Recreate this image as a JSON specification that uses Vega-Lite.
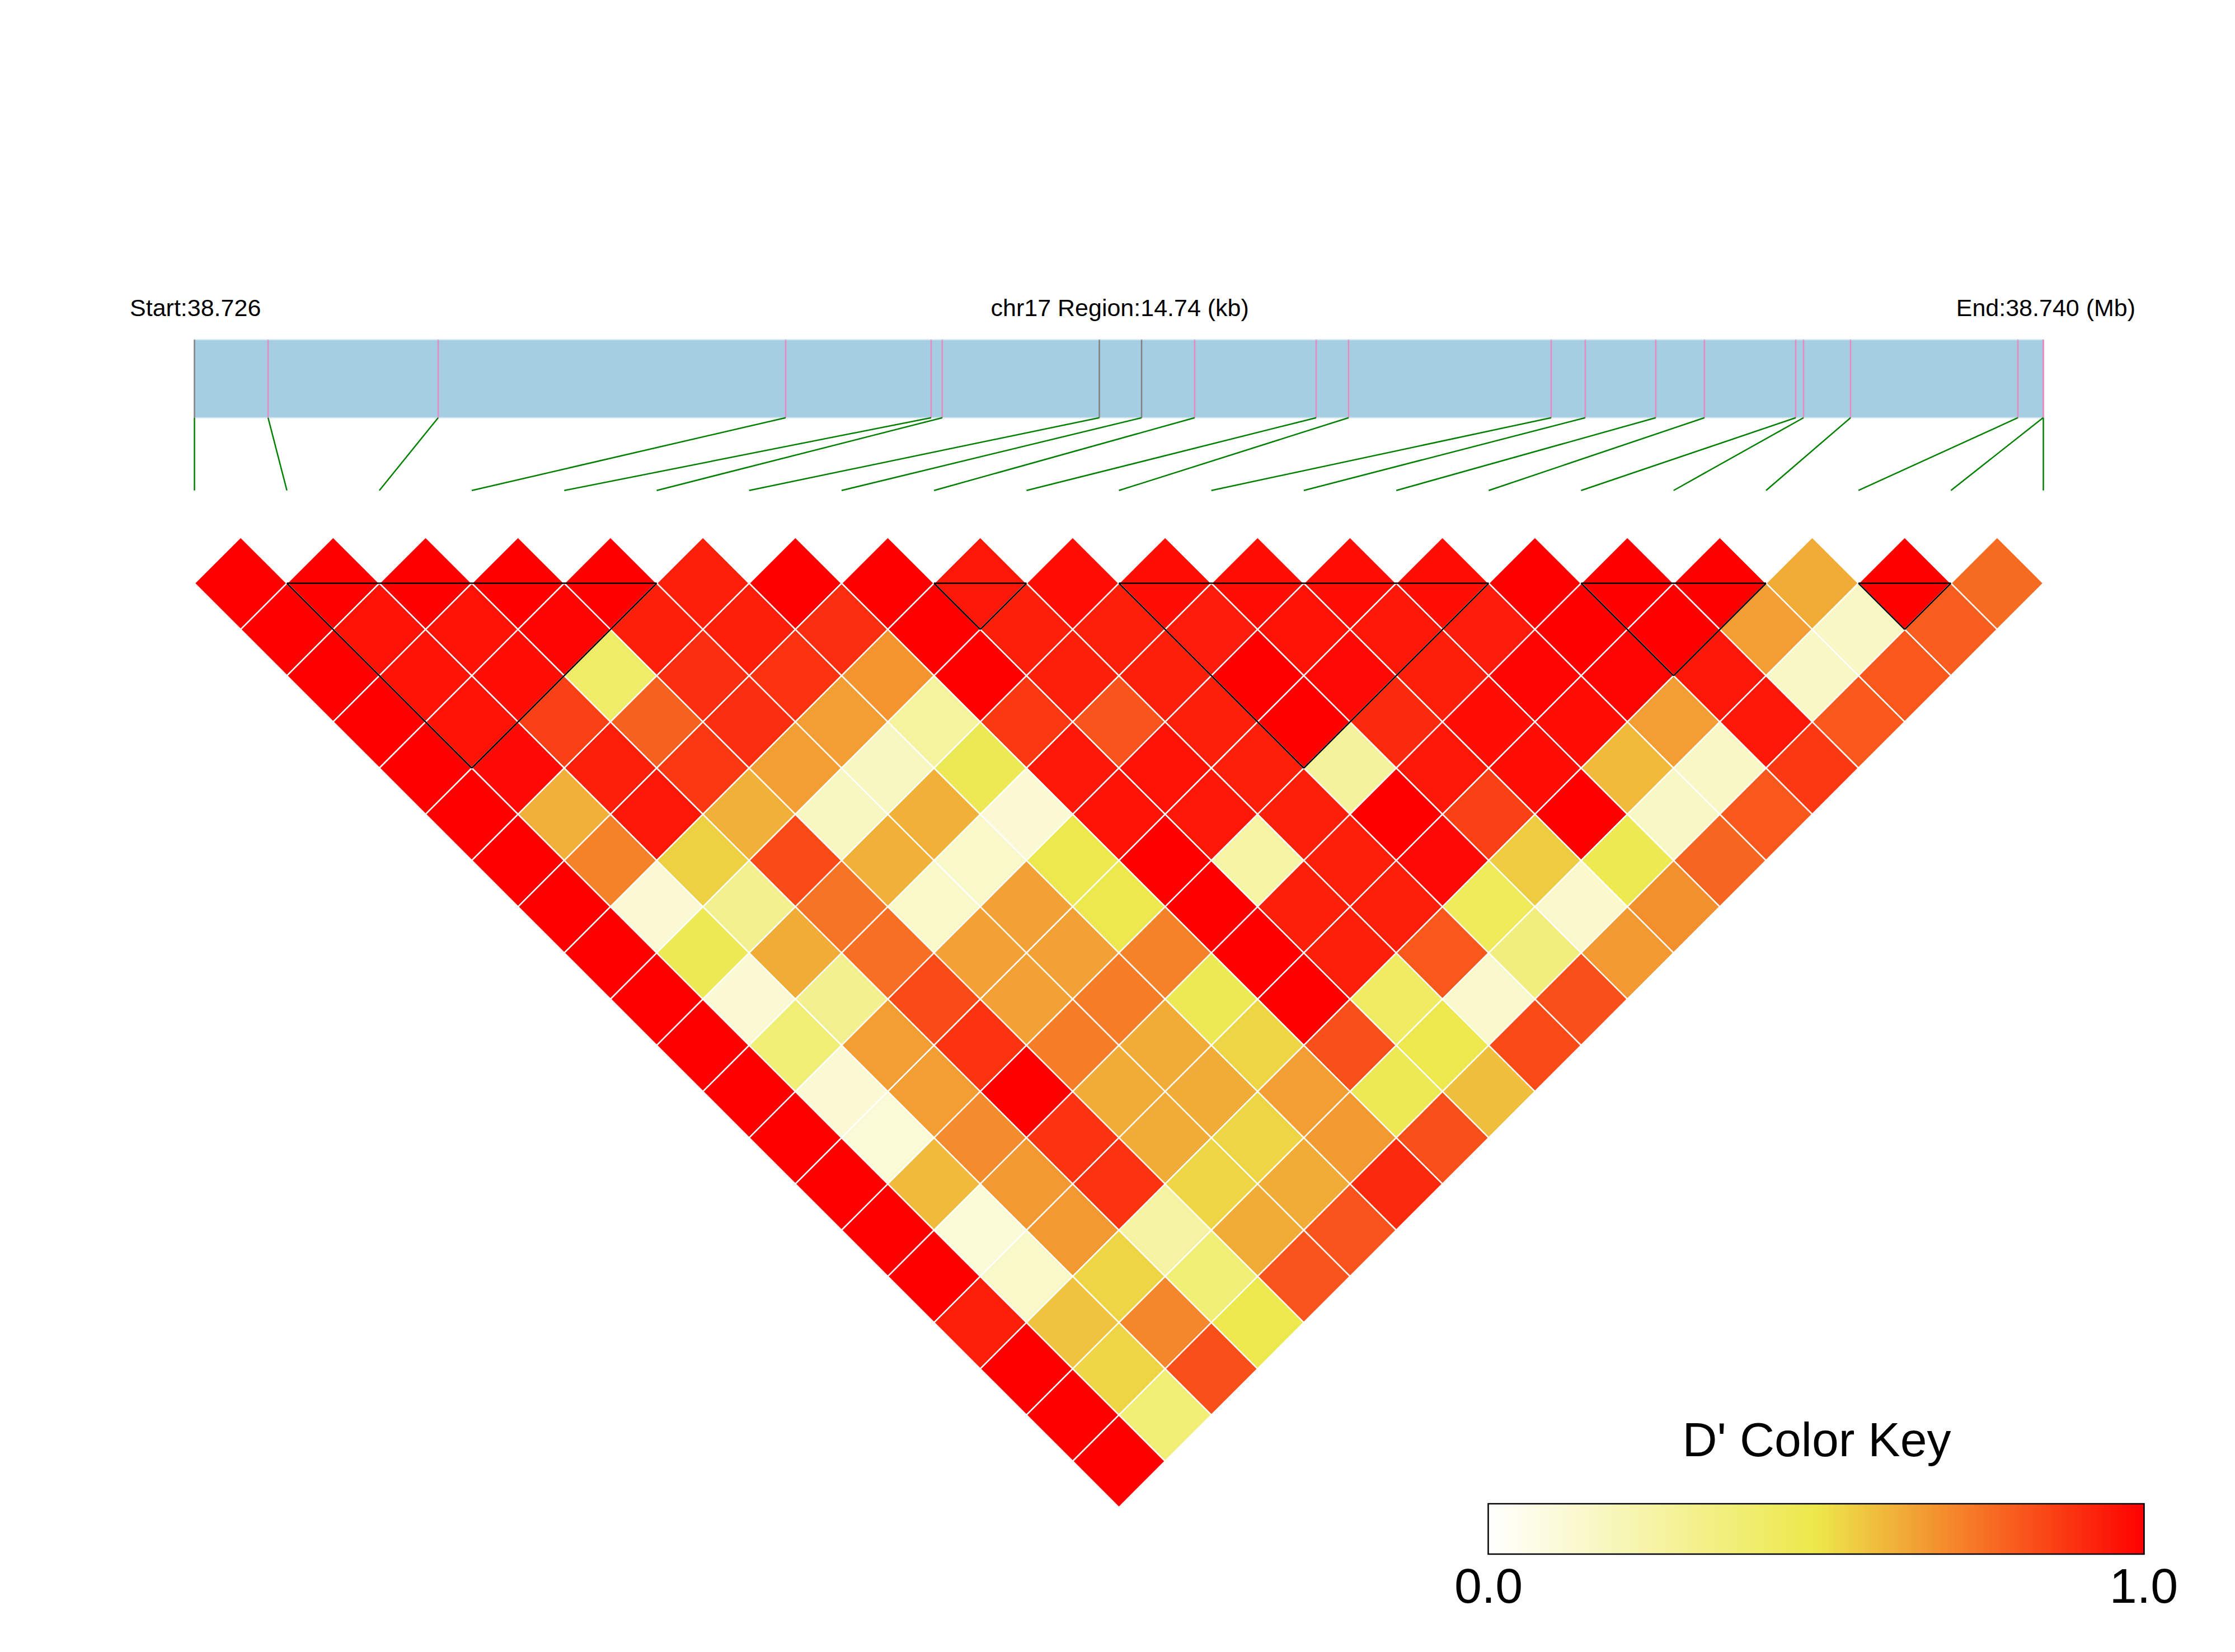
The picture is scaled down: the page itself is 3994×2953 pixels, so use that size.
{
  "$schema": "https://vega.github.io/schema/vega-lite/v6.json",
  "width": 3994,
  "height": 2953,
  "autosize": "none",
  "padding": 0,
  "background": "white",
  "config": {"view": {"stroke": null}},
  "datasets": {
    "snps": [
      {"k":0,"pos":38725600,"group":"grey"},
      {"k":1,"pos":38726187,"group":"pink"},
      {"k":2,"pos":38727543,"group":"pink"},
      {"k":3,"pos":38730313,"group":"pink"},
      {"k":4,"pos":38731473,"group":"pink"},
      {"k":5,"pos":38731562,"group":"pink"},
      {"k":6,"pos":38732814,"group":"grey"},
      {"k":7,"pos":38733151,"group":"grey"},
      {"k":8,"pos":38733574,"group":"pink"},
      {"k":9,"pos":38734543,"group":"pink"},
      {"k":10,"pos":38734801,"group":"pink"},
      {"k":11,"pos":38736416,"group":"pink"},
      {"k":12,"pos":38736688,"group":"pink"},
      {"k":13,"pos":38737250,"group":"pink"},
      {"k":14,"pos":38737638,"group":"pink"},
      {"k":15,"pos":38738366,"group":"pink"},
      {"k":16,"pos":38738428,"group":"pink"},
      {"k":17,"pos":38738803,"group":"pink"},
      {"k":18,"pos":38740137,"group":"pink"},
      {"k":19,"pos":38740338,"group":"pink"},
      {"k":20,"pos":38740340,"group":"pink"}
    ],
    "blocks": [
      {"a":1,"b":5},{"a":8,"b":9},{"a":10,"b":14},{"a":15,"b":17},{"a":18,"b":19}
    ],
    "ld": [
      {"i":0,"j":1,"d":1},{"i":1,"j":2,"d":1},{"i":2,"j":3,"d":1},{"i":3,"j":4,"d":1},{"i":4,"j":5,"d":1},{"i":5,"j":6,"d":0.93},{"i":6,"j":7,"d":1},{"i":7,"j":8,"d":1},{"i":8,"j":9,"d":0.95},{"i":9,"j":10,"d":0.97},{"i":10,"j":11,"d":0.97},{"i":11,"j":12,"d":0.97},{"i":12,"j":13,"d":0.97},{"i":13,"j":14,"d":0.97},{"i":14,"j":15,"d":1},{"i":15,"j":16,"d":1},{"i":16,"j":17,"d":1},{"i":17,"j":18,"d":0.63},{"i":18,"j":19,"d":1},{"i":19,"j":20,"d":0.77},
      {"i":0,"j":2,"d":1},{"i":1,"j":3,"d":0.96},{"i":2,"j":4,"d":0.96},{"i":3,"j":5,"d":0.99},{"i":4,"j":6,"d":0.93},{"i":5,"j":7,"d":0.93},{"i":6,"j":8,"d":0.9},{"i":7,"j":9,"d":1},{"i":8,"j":10,"d":0.93},{"i":9,"j":11,"d":0.93},{"i":10,"j":12,"d":0.94},{"i":11,"j":13,"d":0.96},{"i":12,"j":14,"d":0.95},{"i":13,"j":15,"d":0.94},{"i":14,"j":16,"d":1},{"i":15,"j":17,"d":1},{"i":16,"j":18,"d":0.66},{"i":17,"j":19,"d":0.16},{"i":18,"j":20,"d":0.8},
      {"i":0,"j":3,"d":1},{"i":1,"j":4,"d":0.96},{"i":2,"j":5,"d":0.97},{"i":3,"j":6,"d":0.42},{"i":4,"j":7,"d":0.9},{"i":5,"j":8,"d":0.89},{"i":6,"j":9,"d":0.68},{"i":7,"j":10,"d":1},{"i":8,"j":11,"d":0.93},{"i":9,"j":12,"d":0.93},{"i":10,"j":13,"d":1},{"i":11,"j":14,"d":0.98},{"i":12,"j":15,"d":0.93},{"i":13,"j":16,"d":0.99},{"i":14,"j":17,"d":0.99},{"i":15,"j":18,"d":0.95},{"i":16,"j":19,"d":0.16},{"i":17,"j":20,"d":0.81},
      {"i":0,"j":4,"d":1},{"i":1,"j":5,"d":0.96},{"i":2,"j":6,"d":0.86},{"i":3,"j":7,"d":0.79},{"i":4,"j":8,"d":0.9},{"i":5,"j":9,"d":0.66},{"i":6,"j":10,"d":0.27},{"i":7,"j":11,"d":0.88},{"i":8,"j":12,"d":0.82},{"i":9,"j":13,"d":0.93},{"i":10,"j":14,"d":1},{"i":11,"j":15,"d":0.91},{"i":12,"j":16,"d":0.97},{"i":13,"j":17,"d":0.97},{"i":14,"j":18,"d":0.66},{"i":15,"j":19,"d":0.95},{"i":16,"j":20,"d":0.81},
      {"i":0,"j":5,"d":1},{"i":1,"j":6,"d":0.98},{"i":2,"j":7,"d":0.93},{"i":3,"j":8,"d":0.88},{"i":4,"j":9,"d":0.66},{"i":5,"j":10,"d":0.17},{"i":6,"j":11,"d":0.47},{"i":7,"j":12,"d":0.95},{"i":8,"j":13,"d":0.96},{"i":9,"j":14,"d":0.93},{"i":10,"j":15,"d":0.28},{"i":11,"j":16,"d":0.95},{"i":12,"j":17,"d":0.97},{"i":13,"j":18,"d":0.6},{"i":14,"j":19,"d":0.16},{"i":15,"j":20,"d":0.88},
      {"i":0,"j":6,"d":1},{"i":1,"j":7,"d":0.62},{"i":2,"j":8,"d":0.95},{"i":3,"j":9,"d":0.62},{"i":4,"j":10,"d":0.17},{"i":5,"j":11,"d":0.62},{"i":6,"j":12,"d":0.12},{"i":7,"j":13,"d":0.96},{"i":8,"j":14,"d":0.95},{"i":9,"j":15,"d":0.93},{"i":10,"j":16,"d":1},{"i":11,"j":17,"d":0.86},{"i":12,"j":18,"d":1},{"i":13,"j":19,"d":0.16},{"i":14,"j":20,"d":0.81},
      {"i":0,"j":7,"d":1},{"i":1,"j":8,"d":0.72},{"i":2,"j":9,"d":0.55},{"i":3,"j":10,"d":0.84},{"i":4,"j":11,"d":0.62},{"i":5,"j":12,"d":0.15},{"i":6,"j":13,"d":0.49},{"i":7,"j":14,"d":1},{"i":8,"j":15,"d":0.25},{"i":9,"j":16,"d":0.93},{"i":10,"j":17,"d":0.98},{"i":11,"j":18,"d":0.56},{"i":12,"j":19,"d":0.48},{"i":13,"j":20,"d":0.78},
      {"i":0,"j":8,"d":1},{"i":1,"j":9,"d":0.12},{"i":2,"j":10,"d":0.31},{"i":3,"j":11,"d":0.75},{"i":4,"j":12,"d":0.15},{"i":5,"j":13,"d":0.65},{"i":6,"j":14,"d":0.49},{"i":7,"j":15,"d":1},{"i":8,"j":16,"d":0.93},{"i":9,"j":17,"d":0.93},{"i":10,"j":18,"d":0.46},{"i":11,"j":19,"d":0.14},{"i":12,"j":20,"d":0.69},
      {"i":0,"j":9,"d":1},{"i":1,"j":10,"d":0.47},{"i":2,"j":11,"d":0.63},{"i":3,"j":12,"d":0.76},{"i":4,"j":13,"d":0.65},{"i":5,"j":14,"d":0.65},{"i":6,"j":15,"d":0.72},{"i":7,"j":16,"d":1},{"i":8,"j":17,"d":0.93},{"i":9,"j":18,"d":0.81},{"i":10,"j":19,"d":0.36},{"i":11,"j":20,"d":0.67},
      {"i":0,"j":10,"d":1},{"i":1,"j":11,"d":0.12},{"i":2,"j":12,"d":0.31},{"i":3,"j":13,"d":0.84},{"i":4,"j":14,"d":0.65},{"i":5,"j":15,"d":0.73},{"i":6,"j":16,"d":0.47},{"i":7,"j":17,"d":1},{"i":8,"j":18,"d":0.43},{"i":9,"j":19,"d":0.14},{"i":10,"j":20,"d":0.83},
      {"i":0,"j":11,"d":1},{"i":1,"j":12,"d":0.38},{"i":2,"j":13,"d":0.66},{"i":3,"j":14,"d":0.89},{"i":4,"j":15,"d":0.73},{"i":5,"j":16,"d":0.63},{"i":6,"j":17,"d":0.54},{"i":7,"j":18,"d":0.83},{"i":8,"j":19,"d":0.49},{"i":9,"j":20,"d":0.84},
      {"i":0,"j":12,"d":1},{"i":1,"j":13,"d":0.12},{"i":2,"j":14,"d":0.66},{"i":3,"j":15,"d":1},{"i":4,"j":16,"d":0.63},{"i":5,"j":17,"d":0.63},{"i":6,"j":18,"d":0.66},{"i":7,"j":19,"d":0.47},{"i":8,"j":20,"d":0.59},
      {"i":0,"j":13,"d":1},{"i":1,"j":14,"d":0.11},{"i":2,"j":15,"d":0.7},{"i":3,"j":16,"d":0.89},{"i":4,"j":17,"d":0.63},{"i":5,"j":18,"d":0.54},{"i":6,"j":19,"d":0.67},{"i":7,"j":20,"d":0.83},
      {"i":0,"j":14,"d":1},{"i":1,"j":15,"d":0.6},{"i":2,"j":16,"d":0.67},{"i":3,"j":17,"d":0.89},{"i":4,"j":18,"d":0.54},{"i":5,"j":19,"d":0.63},{"i":6,"j":20,"d":0.91},
      {"i":0,"j":15,"d":1},{"i":1,"j":16,"d":0.11},{"i":2,"j":17,"d":0.67},{"i":3,"j":18,"d":0.26},{"i":4,"j":19,"d":0.63},{"i":5,"j":20,"d":0.82},
      {"i":0,"j":16,"d":1},{"i":1,"j":17,"d":0.15},{"i":2,"j":18,"d":0.54},{"i":3,"j":19,"d":0.38},{"i":4,"j":20,"d":0.82},
      {"i":0,"j":17,"d":0.93},{"i":1,"j":18,"d":0.58},{"i":2,"j":19,"d":0.71},{"i":3,"j":20,"d":0.49},
      {"i":0,"j":18,"d":1},{"i":1,"j":19,"d":0.54},{"i":2,"j":20,"d":0.83},
      {"i":0,"j":19,"d":1},{"i":1,"j":20,"d":0.38},
      {"i":0,"j":20,"d":1}
    ]
  },
  "layer": [
    {
      "data": {"values": [{}]},
      "mark": {"type": "rect", "fill": "#a6cee3", "stroke": "#d2e6f0", "strokeWidth": 2},
      "encoding": {
        "x": {"datum": 0, "type": "quantitative", "scale": {"domain": [-2.1035, 22.0732], "nice": false, "zero": false}, "axis": null},
        "x2": {"datum": 20},
        "y": {"datum": -2.135, "type": "quantitative", "scale": {"domain": [-5.8111, 12.0642], "nice": false, "zero": false, "reverse": true}, "axis": null},
        "y2": {"datum": -1.291}
      }
    },
    {
      "data": {"name": "snps"},
      "transform": [
        {"filter": "datum.group === 'grey'"},
        {"calculate": "(datum.pos - 38725600) / 14740 * 20", "as": "px"}
      ],
      "mark": {"type": "rule", "color": "#808080", "strokeWidth": 2.5},
      "encoding": {
        "x": {"field": "px", "type": "quantitative", "scale": {"domain": [-2.1035, 22.0732], "nice": false, "zero": false}, "axis": null},
        "y": {"datum": -2.135, "type": "quantitative", "scale": {"domain": [-5.8111, 12.0642], "nice": false, "zero": false, "reverse": true}, "axis": null},
        "y2": {"datum": -1.291}
      }
    },
    {
      "data": {"name": "snps"},
      "transform": [
        {"filter": "datum.group === 'pink'"},
        {"calculate": "(datum.pos - 38725600) / 14740 * 20", "as": "px"}
      ],
      "mark": {"type": "rule", "color": "#e78ac3", "strokeWidth": 2.5},
      "encoding": {
        "x": {"field": "px", "type": "quantitative", "scale": {"domain": [-2.1035, 22.0732], "nice": false, "zero": false}, "axis": null},
        "y": {"datum": -2.135, "type": "quantitative", "scale": {"domain": [-5.8111, 12.0642], "nice": false, "zero": false, "reverse": true}, "axis": null},
        "y2": {"datum": -1.291}
      }
    },
    {
      "data": {"name": "snps"},
      "transform": [
        {"calculate": "(datum.pos - 38725600) / 14740 * 20", "as": "px"}
      ],
      "mark": {"type": "rule", "color": "#008000", "strokeWidth": 2.5},
      "encoding": {
        "x": {"field": "px", "type": "quantitative", "scale": {"domain": [-2.1035, 22.0732], "nice": false, "zero": false}, "axis": null},
        "x2": {"field": "k"},
        "y": {"datum": -1.291, "type": "quantitative", "scale": {"domain": [-5.8111, 12.0642], "nice": false, "zero": false, "reverse": true}, "axis": null},
        "y2": {"datum": -0.504}
      }
    },
    {
      "data": {"name": "ld"},
      "transform": [
        {"calculate": "(datum.i + datum.j) / 2", "as": "cx"},
        {"calculate": "(datum.j - datum.i) / 2", "as": "cy"}
      ],
      "mark": {"type": "point", "shape": "diamond", "filled": true, "size": 27291, "stroke": "white", "strokeWidth": 2.5, "opacity": 1},
      "encoding": {
        "x": {"field": "cx", "type": "quantitative", "scale": {"domain": [-2.1035, 22.0732], "nice": false, "zero": false}, "axis": null},
        "y": {"field": "cy", "type": "quantitative", "scale": {"domain": [-5.8111, 12.0642], "nice": false, "zero": false, "reverse": true}, "axis": null},
        "color": {
          "field": "d", "type": "quantitative", "title": "D' Color Key",
          "scale": {"domain": [0, 0.5, 1], "range": ["#ffffff", "#ece84a", "#ff0000"], "interpolate": "rgb"},
          "legend": {
            "orient": "none", "legendX": 2659.5, "legendY": 2535, "direction": "horizontal",
            "gradientLength": 1172, "gradientThickness": 90,
            "gradientStrokeColor": "black", "gradientStrokeWidth": 2.5,
            "titleFontSize": 86, "titleFont": "Liberation Sans", "titleFontWeight": "normal", "titleColor": "black",
            "titleAnchor": "middle", "titlePadding": 67, "titleLimit": 3000,
            "labelFontSize": 88, "labelFont": "Liberation Sans", "labelColor": "black",
            "labelOffset": 17, "labelOverlap": false, "labelLimit": 1000,
            "values": [0.0005, 0.9995], "format": ".1f", "padding": 0
          }
        }
      }
    },
    {
      "data": {"name": "blocks"},
      "mark": {"type": "rule", "color": "black", "strokeWidth": 2.5},
      "encoding": {
        "x": {"field": "a", "type": "quantitative", "scale": {"domain": [-2.1035, 22.0732], "nice": false, "zero": false}, "axis": null},
        "x2": {"field": "b"},
        "y": {"datum": 0.5, "type": "quantitative", "scale": {"domain": [-5.8111, 12.0642], "nice": false, "zero": false, "reverse": true}, "axis": null},
        "y2": {"datum": 0.5}
      }
    },
    {
      "data": {"name": "blocks"},
      "transform": [
        {"calculate": "(datum.a + datum.b) / 2", "as": "mid"},
        {"calculate": "0.5 + (datum.b - datum.a) / 2", "as": "apex"},
        {"calculate": "0.5", "as": "top"}
      ],
      "mark": {"type": "rule", "color": "black", "strokeWidth": 2.5},
      "encoding": {
        "x": {"field": "a", "type": "quantitative", "scale": {"domain": [-2.1035, 22.0732], "nice": false, "zero": false}, "axis": null},
        "x2": {"field": "mid"},
        "y": {"field": "top", "type": "quantitative", "scale": {"domain": [-5.8111, 12.0642], "nice": false, "zero": false, "reverse": true}, "axis": null},
        "y2": {"field": "apex"}
      }
    },
    {
      "data": {"name": "blocks"},
      "transform": [
        {"calculate": "(datum.a + datum.b) / 2", "as": "mid"},
        {"calculate": "0.5 + (datum.b - datum.a) / 2", "as": "apex"},
        {"calculate": "0.5", "as": "top"}
      ],
      "mark": {"type": "rule", "color": "black", "strokeWidth": 2.5},
      "encoding": {
        "x": {"field": "b", "type": "quantitative", "scale": {"domain": [-2.1035, 22.0732], "nice": false, "zero": false}, "axis": null},
        "x2": {"field": "mid"},
        "y": {"field": "top", "type": "quantitative", "scale": {"domain": [-5.8111, 12.0642], "nice": false, "zero": false, "reverse": true}, "axis": null},
        "y2": {"field": "apex"}
      }
    },
    {
      "data": {"values": [{}]},
      "mark": {"type": "text", "text": "Start:38.726", "align": "left", "baseline": "alphabetic", "font": "Liberation Sans", "fontSize": 43, "color": "black"},
      "encoding": {
        "x": {"datum": -0.699, "type": "quantitative", "scale": {"domain": [-2.1035, 22.0732], "nice": false, "zero": false}, "axis": null},
        "y": {"datum": -2.391, "type": "quantitative", "scale": {"domain": [-5.8111, 12.0642], "nice": false, "zero": false, "reverse": true}, "axis": null}
      }
    },
    {
      "data": {"values": [{}]},
      "mark": {"type": "text", "text": "chr17 Region:14.74 (kb)", "align": "center", "baseline": "alphabetic", "font": "Liberation Sans", "fontSize": 43, "color": "black"},
      "encoding": {
        "x": {"datum": 10.01, "type": "quantitative", "scale": {"domain": [-2.1035, 22.0732], "nice": false, "zero": false}, "axis": null},
        "y": {"datum": -2.391, "type": "quantitative", "scale": {"domain": [-5.8111, 12.0642], "nice": false, "zero": false, "reverse": true}, "axis": null}
      }
    },
    {
      "data": {"values": [{}]},
      "mark": {"type": "text", "text": "End:38.740 (Mb)", "align": "right", "baseline": "alphabetic", "font": "Liberation Sans", "fontSize": 43, "color": "black"},
      "encoding": {
        "x": {"datum": 20.996, "type": "quantitative", "scale": {"domain": [-2.1035, 22.0732], "nice": false, "zero": false}, "axis": null},
        "y": {"datum": -2.391, "type": "quantitative", "scale": {"domain": [-5.8111, 12.0642], "nice": false, "zero": false, "reverse": true}, "axis": null}
      }
    }
  ]
}
